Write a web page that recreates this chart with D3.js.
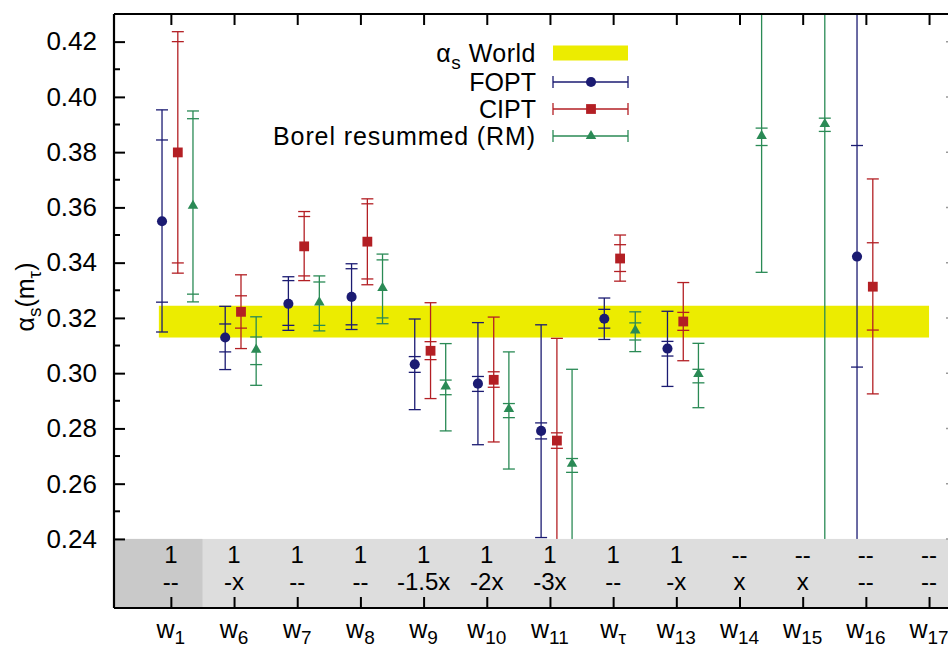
<!DOCTYPE html>
<html>
<head>
<meta charset="utf-8">
<script src="https://cdn.jsdelivr.net/npm/d3@7"></script>
<style>
  html, body { margin: 0; padding: 0; background: #fff; }
  svg { display: block; font-family: "Liberation Sans", Arial, Helvetica, sans-serif; }
</style>
</head>
<body>
<div id="chart"></div>
<script>
"use strict";

// categories (subscripts of w) and the table rows under the plot
const subs = ["1", "6", "7", "8", "9", "10", "11", "τ", "13", "14", "15", "16", "17"];
const row1 = ["1", "1", "1", "1", "1", "1", "1", "1", "1", "--", "--", "--", "--"];
const row2 = ["--", "-x", "--", "--", "-1.5x", "-2x", "-3x", "--", "-x", "x", "x", "--", "--"];

// FOPT
const foptVal   = [0.3550, 0.3129, 0.3251, 0.3276, 0.3032, 0.2962, 0.2791, 0.3197, 0.3089, null, null, 0.3422, null];
const foptInLo  = [0.3257, 0.3077, 0.3173, 0.3175, 0.3003, 0.2934, 0.2762, 0.3163, 0.3062, null, null, 0.3022, null];
const foptInHi  = [0.3844, 0.3178, 0.3335, 0.3378, 0.3060, 0.2988, 0.2820, 0.3231, 0.3115, null, null, 0.3824, null];
const foptOutLo = [0.3149, 0.3013, 0.3155, 0.3158, 0.2868, 0.2741, 0.2405, 0.3122, 0.2952, null, null, 0.1900, null];
const foptOutHi = [0.3953, 0.3242, 0.3349, 0.3396, 0.3196, 0.3183, 0.3175, 0.3272, 0.3224, null, null, 0.4900, null];

// CIPT
const ciptVal   = [0.3799, 0.3222, 0.3459, 0.3476, 0.3081, 0.2976, 0.2756, 0.3415, 0.3187, null, null, 0.3313, null];
const ciptInLo  = [0.3399, 0.3163, 0.3352, 0.3341, 0.3049, 0.2949, 0.2728, 0.3368, 0.3155, null, null, 0.3156, null];
const ciptInHi  = [0.4200, 0.3280, 0.3567, 0.3613, 0.3114, 0.3005, 0.2784, 0.3465, 0.3220, null, null, 0.3472, null];
const ciptOutLo = [0.3362, 0.3089, 0.3335, 0.3320, 0.2908, 0.2751, 0.2386, 0.3333, 0.3045, null, null, 0.2925, null];
const ciptOutHi = [0.4236, 0.3356, 0.3585, 0.3631, 0.3255, 0.3203, 0.3126, 0.3500, 0.3328, null, null, 0.3703, null];

// Borel resummed (RM)
const borelVal   = [0.3606, 0.3085, 0.3256, 0.3308, 0.2952, 0.2870, 0.2672, 0.3155, 0.2997, 0.3859, 0.3902, null, null];
const borelInLo  = [0.3286, 0.3031, 0.3173, 0.3200, 0.2922, 0.2839, 0.2641, 0.3120, 0.2965, 0.3824, 0.3875, null, null];
const borelInHi  = [0.3921, 0.3131, 0.3330, 0.3410, 0.2975, 0.2890, 0.2691, 0.3182, 0.3014, 0.3887, 0.3923, null, null];
const borelOutLo = [0.3258, 0.2956, 0.3153, 0.3179, 0.2791, 0.2653, 0.2330, 0.3078, 0.2875, 0.3365, 0.1900, null, null];
const borelOutHi = [0.3949, 0.3204, 0.3352, 0.3431, 0.3107, 0.3077, 0.3014, 0.3222, 0.3108, 0.4353, 0.5900, null, null];

// world average band
const worldBand = [0.3129, 0.3244];
const yMajor = [0.24, 0.26, 0.28, 0.30, 0.32, 0.34, 0.36, 0.38, 0.40, 0.42];
const yMinor = [0.25, 0.27, 0.29, 0.31, 0.33, 0.35, 0.37, 0.39, 0.41, 0.43];

const W = 948, H = 649;
const L = 114, R = 949, T = 14, B = 608;
const tableTop = 0.24;

const svg = d3.select("#chart").append("svg").attr("width", W).attr("height", H);

const x = d3.scaleLinear().domain([-0.9, 12.3]).range([L, 948]);
const y = d3.scaleLinear().domain([0.215, 0.43]).range([B, T]);

svg.append("clipPath").attr("id", "clip")
  .append("rect").attr("x", L).attr("y", T).attr("width", R - L).attr("height", B - T);

const plot = svg.append("g").attr("clip-path", "url(#clip)");

// yellow band
plot.append("rect")
  .attr("x", x(-0.19)).attr("width", x(12.0) - x(-0.19))
  .attr("y", y(worldBand[1])).attr("height", y(worldBand[0]) - y(worldBand[1]))
  .attr("fill", "#ecec00");

const series = [
  { name: "FOPT", color: "#1b1b72", off: -0.14, sym: d3.symbolCircle, size: 80,
    v: foptVal, il: foptInLo, ih: foptInHi, ol: foptOutLo, oh: foptOutHi },
  { name: "CIPT", color: "#b31f24", off: 0.11, sym: d3.symbolSquare, size: 96,
    v: ciptVal, il: ciptInLo, ih: ciptInHi, ol: ciptOutLo, oh: ciptOutHi },
  { name: "Borel resummed (RM)", color: "#2a8a55", off: 0.35, sym: d3.symbolTriangle, size: 48,
    v: borelVal, il: borelInLo, ih: borelInHi, ol: borelOutLo, oh: borelOutHi }
];

const capW = 6;
series.forEach(s => {
  const idx = s.v.map((d, i) => i).filter(i => s.v[i] !== null);
  const g = plot.append("g").attr("stroke", s.color).attr("stroke-width", 1.3).attr("fill", "none");
  g.selectAll("line.bar").data(idx).join("line")
    .attr("x1", i => x(i + s.off)).attr("x2", i => x(i + s.off))
    .attr("y1", i => y(s.oh[i])).attr("y2", i => y(s.ol[i]));
  const caps = [];
  idx.forEach(i => { caps.push([i, s.oh[i]], [i, s.ih[i]], [i, s.il[i]], [i, s.ol[i]]); });
  g.selectAll("line.cap").data(caps).join("line")
    .attr("x1", d => x(d[0] + s.off) - capW).attr("x2", d => x(d[0] + s.off) + capW)
    .attr("y1", d => y(d[1])).attr("y2", d => y(d[1]));
  plot.append("g").selectAll("path").data(idx).join("path")
    .attr("d", d3.symbol().type(s.sym).size(s.size))
    .attr("transform", i => `translate(${x(i + s.off)},${y(s.v[i])})`)
    .attr("fill", s.color);
});

// table background
svg.append("rect").attr("x", L).attr("y", y(tableTop)).attr("width", R - L).attr("height", B - y(tableTop))
  .attr("fill", "#dddddd");
svg.append("rect").attr("x", L).attr("y", y(tableTop)).attr("width", x(0.5) - L).attr("height", B - y(tableTop))
  .attr("fill", "#c9c9c9");

const fs = 26;
const tbl = svg.append("g").attr("font-size", 24).attr("text-anchor", "middle").attr("fill", "#000");
tbl.selectAll("text.r1").data(row1).join("text").attr("class", "r1")
  .attr("x", (d, i) => x(i)).attr("y", 563).text(d => d);
tbl.selectAll("text.r2").data(row2).join("text").attr("class", "r2")
  .attr("x", (d, i) => x(i)).attr("y", 590).text(d => d);

// axes frame
const ax = svg.append("g").attr("stroke", "#000").attr("stroke-width", 2.2).attr("fill", "none");
ax.append("line").attr("x1", L).attr("x2", R).attr("y1", T).attr("y2", T);
ax.append("line").attr("x1", L).attr("x2", R).attr("y1", B).attr("y2", B);
ax.append("line").attr("x1", L).attr("x2", L).attr("y1", T).attr("y2", B);

// left axis
const yAxis = d3.axisLeft(y).tickValues(yMajor).tickSizeInner(-11).tickSizeOuter(0)
  .tickPadding(17).tickFormat(d3.format(".2f"));
const ya = svg.append("g").attr("transform", `translate(${L},0)`).call(yAxis);
ya.select(".domain").remove();
ya.selectAll(".tick line").attr("stroke-width", 2);
ya.selectAll(".tick text").attr("font-size", fs).attr("font-family", null).attr("fill", "#000");
svg.append("g").selectAll("line").data(yMinor).join("line")
  .attr("x1", L).attr("x2", L + 6).attr("y1", d => y(d)).attr("y2", d => y(d))
  .attr("stroke", "#000").attr("stroke-width", 2);
// right side ticks (just at the page edge)
svg.append("g").selectAll("line").data(yMajor).join("line")
  .attr("x1", W - 2).attr("x2", W).attr("y1", d => y(d)).attr("y2", d => y(d))
  .attr("stroke", "#999").attr("stroke-width", 1.5);

// bottom and top ticks
const xt = subs.map((d, i) => i);
const xAxisB = d3.axisBottom(x).tickValues(xt).tickSizeInner(-11).tickSizeOuter(0).tickFormat("");
const xb = svg.append("g").attr("transform", `translate(0,${B})`).call(xAxisB);
xb.select(".domain").remove();
xb.selectAll(".tick line").attr("stroke-width", 2);
const xAxisT = d3.axisTop(x).tickValues(xt).tickSizeInner(-11).tickSizeOuter(0).tickFormat("");
const xtp = svg.append("g").attr("transform", `translate(0,${T})`).call(xAxisT);
xtp.select(".domain").remove();
xtp.selectAll(".tick line").attr("stroke-width", 2);

// x labels w_i
const xl = svg.append("g").attr("font-size", 25).attr("text-anchor", "middle").attr("fill", "#000");
subs.forEach((s, i) => {
  const t = xl.append("text").attr("x", x(i)).attr("y", 638);
  t.append("tspan").text("w");
  t.append("tspan").attr("font-size", 19).attr("dy", 6).text(s);
});

// y label
const yl = svg.append("text").attr("transform", "translate(34,297) rotate(-90)")
  .attr("text-anchor", "middle").attr("font-size", 25).attr("fill", "#000");
yl.append("tspan").text("α");
yl.append("tspan").attr("font-size", 19).attr("dy", 7).text("s");
yl.append("tspan").attr("dy", -7).text("(m");
yl.append("tspan").attr("font-size", 19).attr("dy", 7).text("τ");
yl.append("tspan").attr("dy", -7).text(")");

// legend
const lg = svg.append("g").attr("font-size", 25).attr("fill", "#000");
const lx0 = 553, lx1 = 628, lxm = 591, ltx = 536;
const rows = [53, 82, 109, 136];
const t0 = lg.append("text").attr("x", ltx).attr("y", rows[0] + 9).attr("text-anchor", "end")
  .attr("letter-spacing", 0.5);
t0.append("tspan").text("α");
t0.append("tspan").attr("font-size", 19).attr("dy", 7).text("s");
t0.append("tspan").attr("dy", -7).text(" World");
lg.append("rect").attr("x", lx0).attr("y", rows[0] - 7.5).attr("width", lx1 - lx0).attr("height", 15)
  .attr("fill", "#ecec00");
series.forEach((s, k) => {
  const ry = rows[k + 1];
  lg.append("text").attr("x", ltx).attr("y", ry + 9).attr("text-anchor", "end")
    .attr("letter-spacing", k === 2 ? 0.9 : 0).text(s.name);
  const g = lg.append("g").attr("stroke", s.color).attr("stroke-width", 1.3);
  g.append("line").attr("x1", lx0).attr("x2", lx1).attr("y1", ry).attr("y2", ry);
  g.append("line").attr("x1", lx0).attr("x2", lx0).attr("y1", ry - 6).attr("y2", ry + 6);
  g.append("line").attr("x1", lx1).attr("x2", lx1).attr("y1", ry - 6).attr("y2", ry + 6);
  lg.append("path").attr("d", d3.symbol().type(s.sym).size(s.size))
    .attr("transform", `translate(${lxm},${ry})`).attr("fill", s.color);
});
</script>
</body>
</html>
